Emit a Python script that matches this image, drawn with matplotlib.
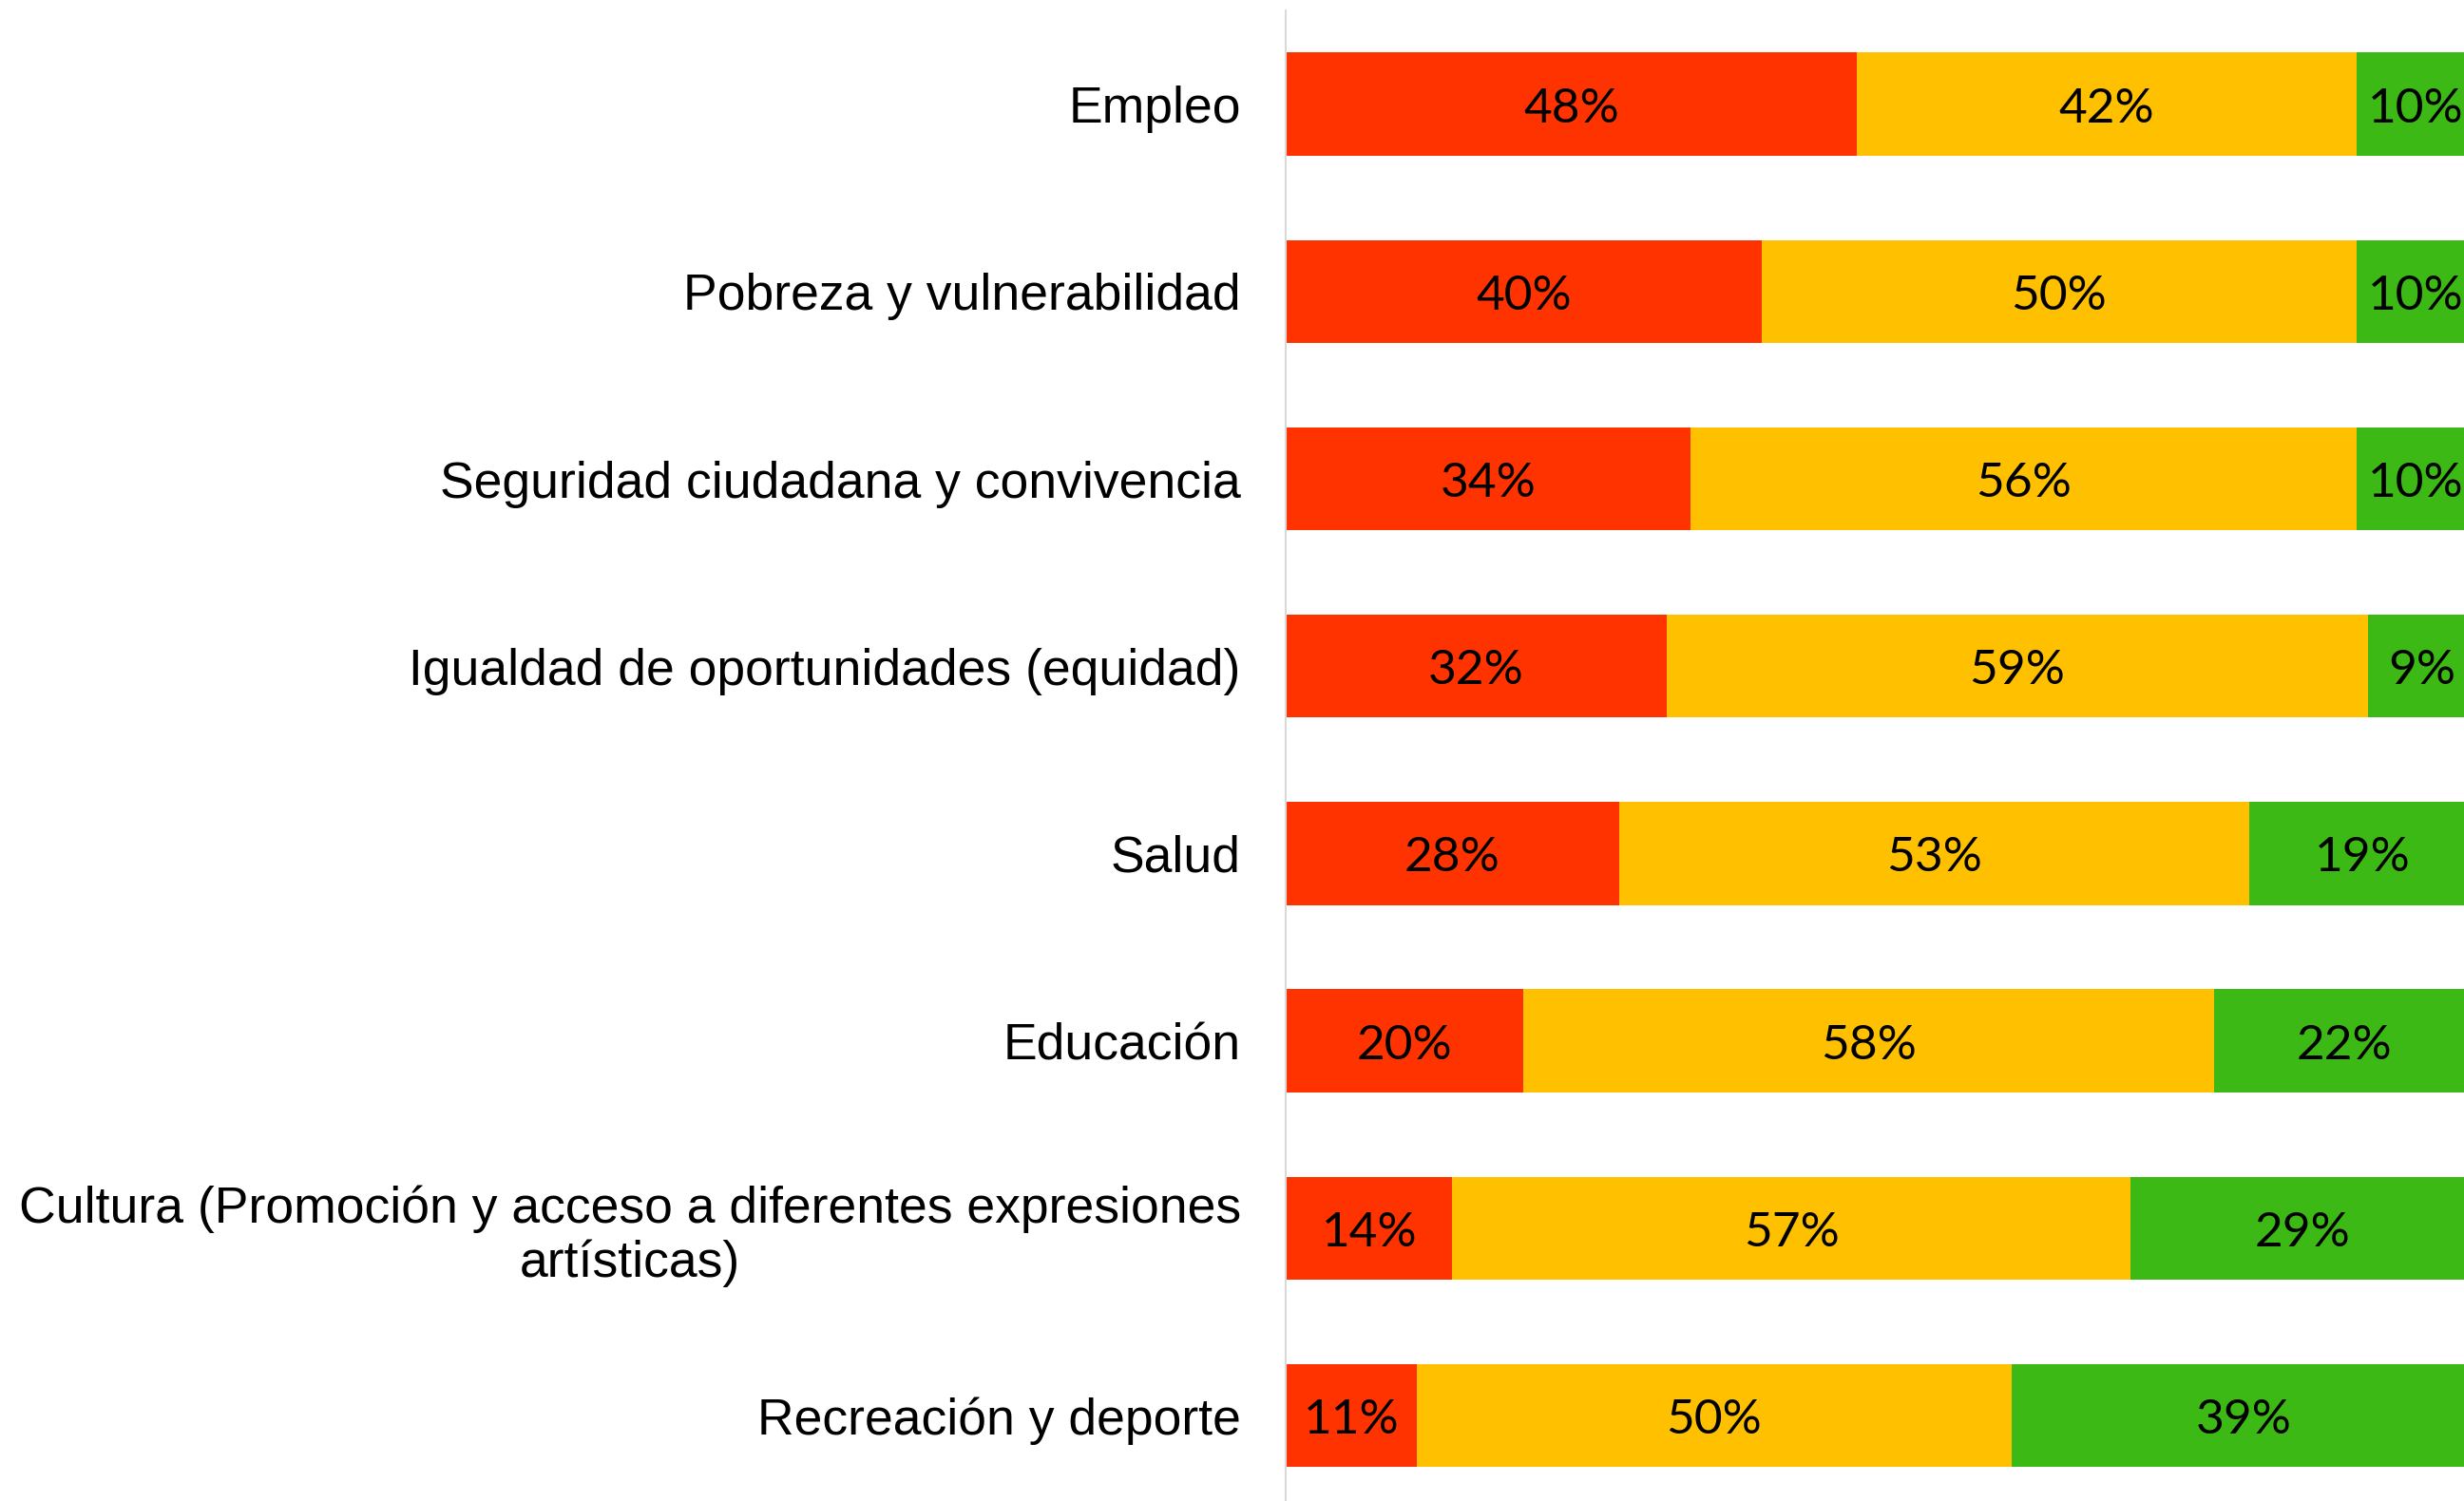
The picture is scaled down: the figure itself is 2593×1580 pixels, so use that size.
import matplotlib
matplotlib.use("Agg")
import matplotlib.pyplot as plt
import numpy as np

categories = [
    "Empleo",
    "Pobreza y vulnerabilidad",
    "Seguridad ciudadana y convivencia",
    "Igualdad de oportunidades (equidad)",
    "Salud",
    "Educación",
    "Cultura (Promoción y acceso a diferentes expresiones\nartísticas)",
    "Recreación y deporte",
]
red_vals = [48, 40, 34, 32, 28, 20, 14, 11]
yellow_vals = [42, 50, 56, 59, 53, 58, 57, 50]
green_vals = [10, 10, 10, 9, 19, 22, 29, 39]

colors = ["#FF3300", "#FFC000", "#3CB914"]

fig = plt.figure(figsize=(25.93, 15.80), dpi=100)
ax = fig.add_axes([0.5218, 0.0, 0.4828, 0.993])

y = np.arange(len(categories))
left = np.zeros(len(categories))
for vals, col in zip([red_vals, yellow_vals, green_vals], colors):
    vals = np.array(vals, dtype=float)
    ax.barh(y, vals, left=left, height=0.55, color=col, edgecolor="none")
    for yi, l, v in zip(y, left, vals):
        ax.text(l + v / 2, yi + 0.025, f"{int(v)}%", ha="center", va="center",
                fontsize=37, family=["Lato", "DejaVu Sans"], color="black")
    left = left + vals

ax.set_xlim(0, 100)
ax.set_ylim(7.456, -0.5)
ax.set_yticks(y)
ax.set_yticklabels(categories, fontsize=38.5, family=["Liberation Sans", "DejaVu Sans"],
                   multialignment="center", linespacing=1.15)
ax.tick_params(axis="y", length=0, pad=34)
ax.set_xticks([])
for s in ["top", "right", "bottom"]:
    ax.spines[s].set_visible(False)
ax.spines["left"].set_color("#D9D9D9")
ax.spines["left"].set_linewidth(1.5)

fig.savefig("out.png", dpi=100)
